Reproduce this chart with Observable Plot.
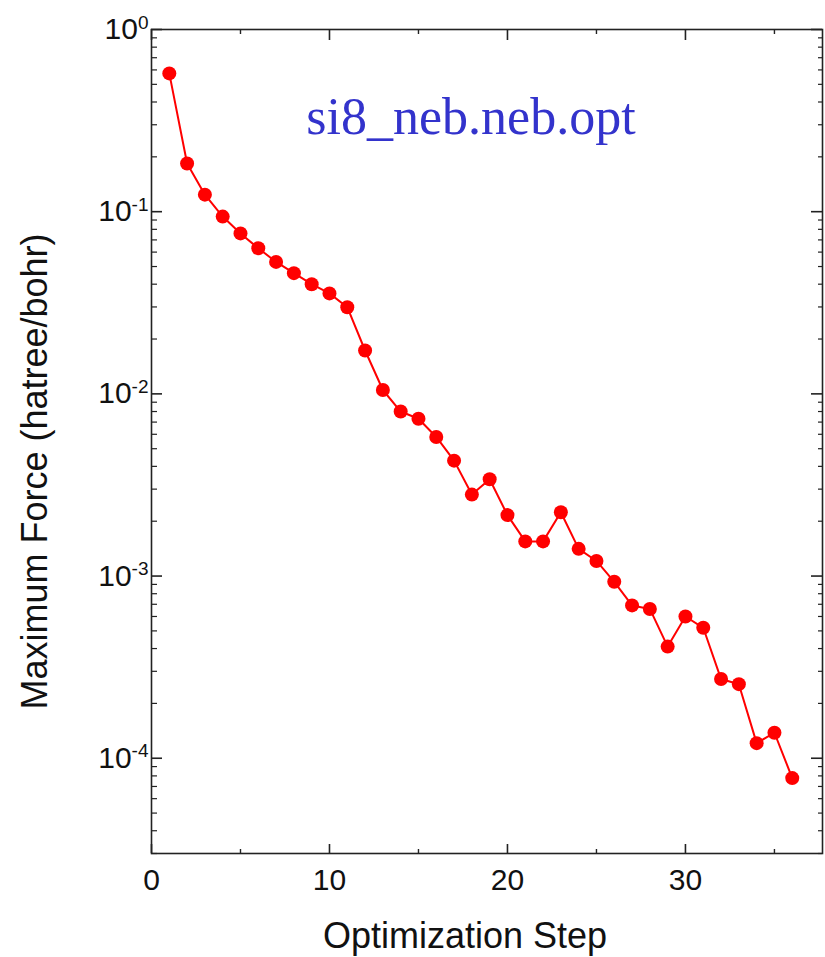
<!DOCTYPE html>
<html><head><meta charset="utf-8">
<script src="https://cdn.jsdelivr.net/npm/d3@7"></script>
<script src="https://cdn.jsdelivr.net/npm/@observablehq/plot@0.6"></script>
<style>
body{margin:0;background:#fff}
#chart{width:825px;height:957px}
</style>
</head><body><div id="chart"></div>
<script>
const steps = [1,2,3,4,5,6,7,8,9,10,11,12,13,14,15,16,17,18,19,20,21,22,23,24,25,26,27,28,29,30,31,32,33,34,35,36];
const maxForce = [0.574,0.184,0.124,0.094,0.076,0.063,0.053,0.046,0.040,0.0356,0.0299,0.0173,0.0105,0.0080,0.0073,0.0058,0.0043,0.0028,0.0034,0.00216,0.00155,0.00155,0.00224,0.00141,0.00121,0.00093,0.00069,0.00066,0.00041,0.00060,0.00052,0.000272,0.000255,0.000121,0.000138,0.0000778];
const title = "si8_neb.neb.opt";
const xLabel = "Optimization Step";
const yLabel = "Maximum Force (hatree/bohr)";
const xMajorTicks = [0,10,20,30];
const xMinorTicks = [5,15,25,35];
const yMajorTicks = [1,0.1,0.01,0.001,0.0001];
const yTickExponents = ["0","-1","-2","-3","-4"];

const W = 825, H = 957, mL = 151, mT = 29, mR = 3, mB = 104;
const innerW = W - mL - mR, innerH = H - mT - mB;
const yDomain = [3.0e-5, 1];
const xDomain = [0, 37.7];
const yMinorTicks = [];
for (const dec of [1e-5,1e-4,1e-3,1e-2,1e-1]) for (let k=2;k<=9;k++){const v=k*dec; if(v>=yDomain[0] && v<1) yMinorTicks.push(v);}

const data = steps.map((s,i)=>({step:s, force:maxForce[i]}));
const font = "'Liberation Sans', Arial, Helvetica, sans-serif";
const axisColor = "#222";

const plot = Plot.plot({
  width: W, height: H,
  marginLeft: mL, marginTop: mT, marginRight: mR, marginBottom: mB,
  style: {fontFamily: font, background: "#fff", color: "#111"},
  x: {domain: xDomain, label: null},
  y: {type: "log", domain: yDomain, label: null},
  marks: [
    Plot.frame({stroke: axisColor, strokeWidth: 1.6}),
    Plot.ruleY(yMajorTicks, {y: d=>d, insetRight: innerW - 11, stroke: axisColor, strokeWidth: 1.6}),
    Plot.ruleY(yMajorTicks, {y: d=>d, insetLeft: innerW - 11, stroke: axisColor, strokeWidth: 1.6}),
    Plot.ruleY(yMinorTicks, {y: d=>d, insetRight: innerW - 6, stroke: axisColor, strokeWidth: 1.2}),
    Plot.ruleY(yMinorTicks, {y: d=>d, insetLeft: innerW - 4, stroke: axisColor, strokeWidth: 1.2}),
    Plot.ruleX(xMajorTicks, {x: d=>d, insetTop: innerH - 9, stroke: axisColor, strokeWidth: 1.6}),
    Plot.ruleX(xMajorTicks, {x: d=>d, insetBottom: innerH - 11, stroke: axisColor, strokeWidth: 1.6}),
    Plot.ruleX(xMinorTicks, {x: d=>d, insetTop: innerH - 4, stroke: axisColor, strokeWidth: 1.4}),
    Plot.ruleX(xMinorTicks, {x: d=>d, insetBottom: innerH - 5, stroke: axisColor, strokeWidth: 1.4}),
    Plot.axisX({ticks: xMajorTicks, tickSize: 0, tickPadding: 15, fontSize: 30, tickFormat: d=>String(d), label: null}),
    Plot.axisY({ticks: yMajorTicks, tickSize: 0, tickPadding: 3, fontSize: 30, tickFormat: d=>"10^" + yTickExponents[yMajorTicks.indexOf(d)], label: null}),
    Plot.line(data, {x: "step", y: "force", stroke: "#ff0000", strokeWidth: 2}),
    Plot.dot(data, {x: "step", y: "force", r: 7, fill: "#ff0000", stroke: "none"}),
    Plot.text([title], {text: d=>d, frameAnchor: "top", dx: -16, dy: 104, lineAnchor: "bottom", fontSize: 52, fill: "#3333cc", fontFamily: "'Liberation Serif', 'Times New Roman', serif"}),
    Plot.text([xLabel], {text: d=>d, frameAnchor: "bottom", dx: -22, dy: 94, lineAnchor: "bottom", fontSize: 36, fill: "#111"}),
    Plot.text([yLabel], {text: d=>d, frameAnchor: "left", textAnchor: "middle", rotate: -90, dx: -116, dy: 30, lineAnchor: "middle", fontSize: 36, fill: "#111"})
  ]
});

d3.select(plot).selectAll('g[aria-label="y-axis tick label"] text').each(function(){
  const t = d3.select(this);
  const parts = t.text().split("^");
  if (parts.length === 2) {
    t.text(parts[0]);
    t.append("tspan").attr("dy", "-0.55em").attr("font-size", 19).text(parts[1]);
  }
});

document.getElementById("chart").appendChild(plot);
</script>
</body></html>
